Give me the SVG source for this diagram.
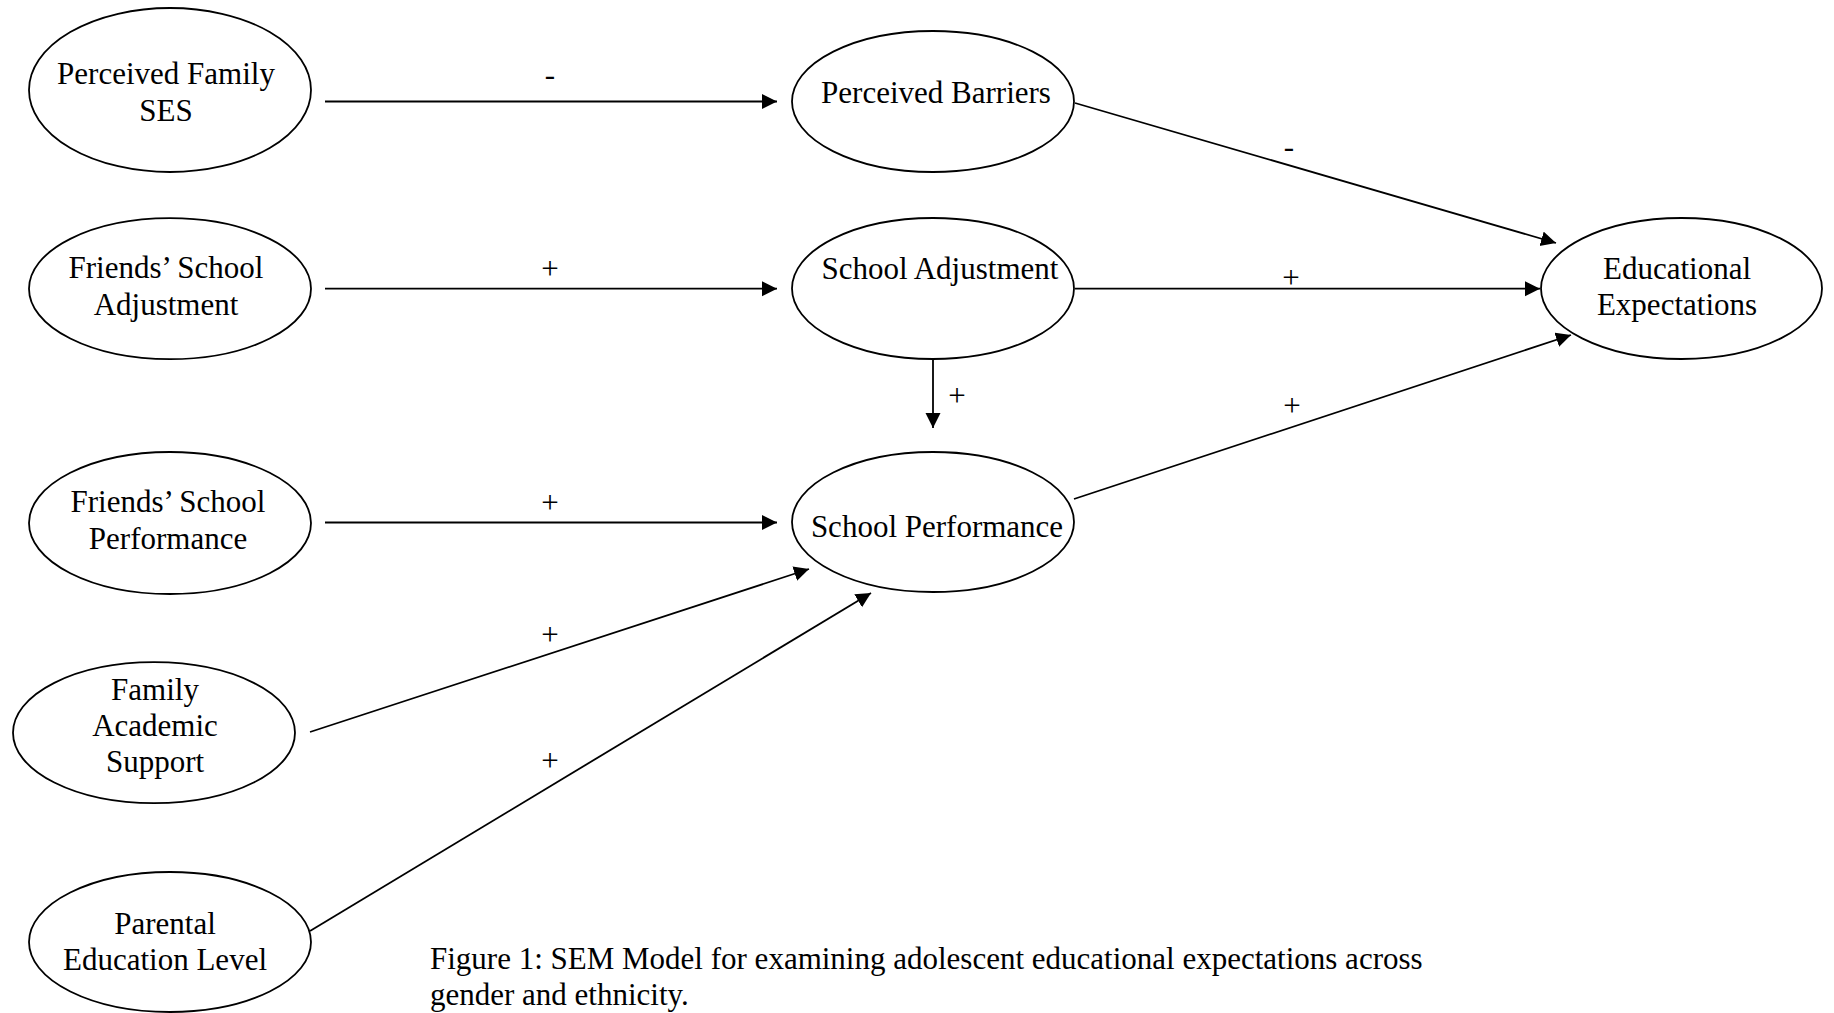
<svg xmlns="http://www.w3.org/2000/svg" width="1834" height="1013" viewBox="0 0 1834 1013">
<defs>
<marker id="arr" markerUnits="userSpaceOnUse" markerWidth="16" markerHeight="16" refX="15" refY="7.5" orient="auto">
<path d="M0,0 L15,7.5 L0,15 z" fill="#000"/>
</marker>
<style>
.n ellipse{fill:#fff;stroke:#000;stroke-width:1.8}
text{font-family:"Liberation Serif","Times New Roman",serif;font-size:31px;fill:#000}
.n text{text-anchor:middle}
.lbl{text-anchor:middle}
#edges line{stroke:#000;stroke-width:1.8;marker-end:url(#arr)}
</style>
</defs>
<rect width="1834" height="1013" fill="#fff"/>
<g id="edges">
<line x1="325" y1="101.5" x2="777" y2="101.5"/>
<line x1="325" y1="288.7" x2="777" y2="288.7"/>
<line x1="325" y1="522.5" x2="777" y2="522.5"/>
<line x1="310" y1="732" x2="809" y2="569"/>
<line x1="310" y1="931" x2="871" y2="593"/>
<line x1="1075" y1="103" x2="1556" y2="243"/>
<line x1="1075" y1="288.7" x2="1540" y2="288.7"/>
<line x1="1074" y1="499" x2="1571" y2="335"/>
<line x1="933" y1="359" x2="933" y2="428"/>
<text class="lbl" x="550" y="85">-</text>
<text class="lbl" x="550" y="279">+</text>
<text class="lbl" x="550" y="513">+</text>
<text class="lbl" x="550" y="645">+</text>
<text class="lbl" x="550" y="771">+</text>
<text class="lbl" x="1289" y="157">-</text>
<text class="lbl" x="1291" y="288">+</text>
<text class="lbl" x="1292" y="416">+</text>
<text class="lbl" x="957" y="406">+</text>
</g>
<g id="n-ses" class="n">
<ellipse cx="170" cy="90" rx="141" ry="82"/>
<text x="166" y="84">Perceived Family</text>
<text x="166" y="121">SES</text>
</g>
<g id="n-fsa" class="n">
<ellipse cx="170" cy="288.7" rx="141" ry="70.5"/>
<text x="166" y="278">Friends’ School</text>
<text x="166" y="315">Adjustment</text>
</g>
<g id="n-fsp" class="n">
<ellipse cx="170" cy="523" rx="141" ry="71"/>
<text x="168" y="512">Friends’ School</text>
<text x="168" y="549">Performance</text>
</g>
<g id="n-fas" class="n">
<ellipse cx="154" cy="732.7" rx="141" ry="70.5"/>
<text x="155" y="700">Family</text>
<text x="155" y="736">Academic</text>
<text x="155" y="771.5">Support</text>
</g>
<g id="n-pel" class="n">
<ellipse cx="170" cy="942" rx="141" ry="70"/>
<text x="165" y="934">Parental</text>
<text x="165" y="970">Education Level</text>
</g>
<g id="n-pb" class="n">
<ellipse cx="933" cy="101.5" rx="141" ry="70.5"/>
<text x="936" y="103">Perceived Barriers</text>
</g>
<g id="n-sa" class="n">
<ellipse cx="933" cy="288.5" rx="141" ry="70.5"/>
<text x="940" y="279">School Adjustment</text>
</g>
<g id="n-sp" class="n">
<ellipse cx="933" cy="522" rx="141" ry="70"/>
<text x="937" y="537">School Performance</text>
</g>
<g id="n-ee" class="n">
<ellipse cx="1681.5" cy="288.5" rx="140.5" ry="70.5"/>
<text x="1677" y="279">Educational</text>
<text x="1677" y="315">Expectations</text>
</g>
<g id="caption">
<text x="430" y="969">Figure 1: SEM Model for examining adolescent educational expectations across</text>
<text x="430" y="1005">gender and ethnicity.</text>
</g>
</svg>
